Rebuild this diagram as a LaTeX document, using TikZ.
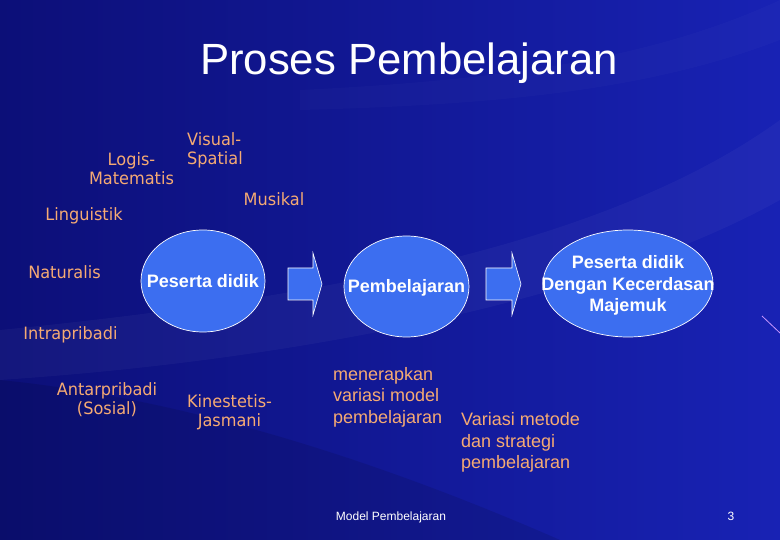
\documentclass[tikz,border=0pt]{standalone}
\usepackage{fontspec}
\setmainfont{Liberation Sans}
\newfontfamily\tahomafont[FakeStretch=0.95]{DejaVu Sans}
\usetikzlibrary{shapes.geometric}
\definecolor{bgdark}{RGB}{12,15,120}
\definecolor{bglight}{RGB}{24,34,180}
\definecolor{bubblefill}{RGB}{60,110,240}
\definecolor{peach}{RGB}{245,170,115}
\definecolor{streak}{RGB}{200,150,255}
\tikzset{
x=1pt, y=-1pt, % pixel coordinates, y going down
bubble/.style={ellipse, draw=white, line width=0.7pt, fill=bubblefill, inner sep=0pt},
bubbletext/.style={text=white, inner sep=0pt, align=center, font=\bfseries\fontsize{18}{21.5}\selectfont},
intel/.style={text=peach, inner sep=0pt, align=center, font=\tahomafont\fontsize{17}{19}\selectfont},
note/.style={text=peach, inner sep=0pt, align=left, font=\fontsize{18}{21.5}\selectfont},
blockarrow/.style={draw=white, line width=0.6pt, fill=bubblefill},
}

\begin{document}
\begin{tikzpicture}
   % background
   \useasboundingbox (0,0) rectangle (780,540);
   \shade[left color=bgdark, right color=bglight] (0,0) rectangle (780,540);
   \fill[white, opacity=0.035] (0,330) .. controls (300,300) and (600,250) .. (780,120)
      -- (780,200) .. controls (600,300) and (300,360) .. (0,380) -- cycle;
   \fill[white, opacity=0.02] (780,0) .. controls (650,60) and (500,80) .. (300,90)
      -- (300,110) .. controls (500,105) and (650,90) .. (780,40) -- cycle;
   \fill[black, opacity=0.1] (0,380) .. controls (200,400) and (400,470) .. (560,540)
      -- (0,540) -- cycle;
   \draw[streak, line width=0.8pt] (762,316) -- (780,333);

   \node[text=white, font=\fontsize{43.7}{50}\selectfont] (title) at (409,63) {Proses Pembelajaran};

   \node[bubble, minimum width=124, minimum height=102,
      label={[bubbletext]center:Peserta didik}] (pd) at (203,281) {};
   \node[bubble, minimum width=125, minimum height=101,
      label={[bubbletext, yshift=-1.5]center:Pembelajaran}] (pb) at (406.5,286.5) {};
   \node[bubble, minimum width=170, minimum height=107,
      label={[bubbletext, yshift=-2]center:{Peserta didik\\Dengan Kecerdasan\\Majemuk}}] (pk) at (628,283.5) {};

   \draw[blockarrow] (288,268) -- (313,268) -- (313,253) -- (322,284) -- (313,315) -- (313,300) -- (288,300) -- cycle;
   \draw[blockarrow] (486,268) -- (512,268) -- (512,253) -- (521,284) -- (512,315) -- (512,300) -- (486,300) -- cycle;

   \node[intel, anchor=west, align=left] (vs) at (187,150.5) {Visual-\\Spatial};
   \node[intel] (lm) at (131.5,169) {Logis-\\Matematis};
   \node[intel] (mu) at (274,199) {Musikal};
   \node[intel] (li) at (84,216) {Linguistik};
   \node[intel] (na) at (64.5,272) {Naturalis};
   \node[intel] (in) at (70.5,335) {Intrapribadi};
   \node[intel] (an) at (107,400) {Antarpribadi\\(Sosial)};
   \node[intel] (ki) at (229.5,412.5) {Kinestetis-\\Jasmani};

   \node[note, anchor=west] (mv) at (333,397) {menerapkan\\variasi model\\pembelajaran};
   \node[note, anchor=west] (vm) at (461,442.5) {Variasi metode\\dan strategi\\pembelajaran};

   \node[text=white, font=\fontsize{12}{14}\selectfont] (foot) at (391,517) {Model Pembelajaran};
   \node[text=white, font=\fontsize{12}{14}\selectfont] (page) at (731,516) {3};
\end{tikzpicture}
\end{document}
